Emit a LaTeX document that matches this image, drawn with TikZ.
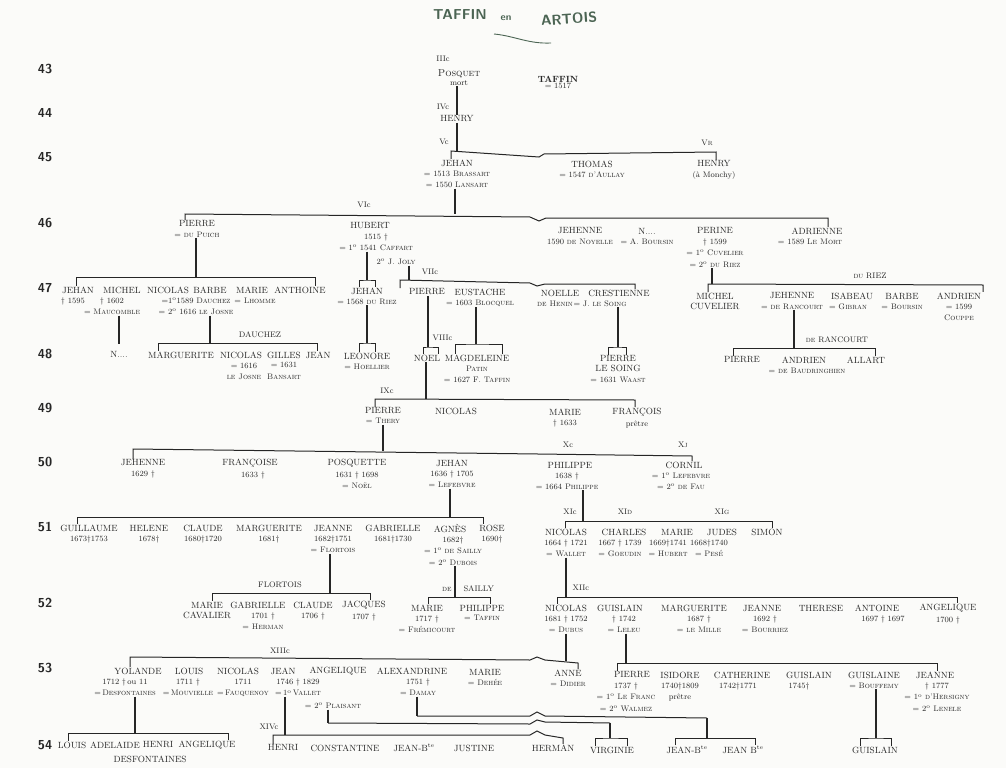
\documentclass[tikz,border=0pt]{standalone}
\usetikzlibrary{positioning}

\definecolor{ink}{HTML}{262626}
\definecolor{titleink}{HTML}{4B6453}
\definecolor{paper}{HTML}{FBFBF9}

\begin{document}
\begin{tikzpicture}[
		x=1pt, y=-1pt,
		pers/.style={font=\small, inner sep=0.5pt, text=ink},
		info/.style={font={\fontsize{8}{11.5}\selectfont}, inner sep=0.5pt, align=center, text=ink},
		lbl/.style={font=\footnotesize, inner sep=0.5pt, text=ink},
		gen/.style={font={\fontsize{13}{15}\selectfont\sffamily\bfseries}, text=ink},
		bar/.style={draw=ink, line width=1pt},
		stem/.style={draw=ink, line width=1.5pt}
		]
		
		\useasboundingbox (0,0) rectangle (1006,768);
		\fill[paper] (0,0) rectangle (1006,768);
		
		\node[font=\sffamily\bfseries\Large, text=titleink] (ttaffin) at (460,15) {TAFFIN};
		\node[font=\sffamily\bfseries\normalsize, text=titleink] (ten) at (506,18) {en};
		\node[font=\sffamily\bfseries\Large, text=titleink, rotate=4] (tartois) at (569,19) {ARTOIS};
		\draw[titleink, line width=0.9pt] (494,34) .. controls (515,36) and (528,44) .. (551,43);
		
		\foreach \g/\y in {43/69,44/113,45/157,46/223,47/288,48/354,49/408,50/462,51/527,52/603,53/668,54/745}
		\node[gen] (gen\g) at (45,\y) {\g};
		
		\node[lbl] (lIII) at (443,59) {IIIc};
		\node[pers, font=\normalsize] (posquet) at (459,74) {\textsc{Posquet}};
		\node[info, below=1pt of posquet] (posquet-i) {mort};
		\node[lbl] (lIV) at (443,107) {IVc};
		\node[pers] (henry44) at (457,119) {HENRY};
		\node[lbl] (lV) at (444,142) {Vc};
		\node[font=\bfseries\small, inner sep=0.5pt, text=ink] (taffin) at (558,79) {TAFFIN};
		\node[info, below=0pt of taffin] (taffin-i) {= 1517};
		
		\draw[stem] (posquet-i.south -| henry44.north) -- (henry44.north);
		
		\node[pers] (jehan45) at (457,163) {JEHAN};
		\node[info, below=3pt of jehan45] (jehan45-i) {= 1513 \textsc{Brassart}\\= 1550 \textsc{Lansart}};
		\node[pers] (thomas45) at (592,164) {THOMAS};
		\node[info, below=3pt of thomas45] (thomas45-i) {= 1547 \textsc{d'Aullay}};
		\node[lbl] (lVr) at (707,143) {V\textsc{r}};
		\node[pers] (henry45) at (714,164) {HENRY};
		\node[info, below=3pt of henry45] (henry45-i) {(à Monchy)};
		
		\coordinate (bVl) at (451,151);
		\coordinate (bVr) at (716,152);
		\draw[stem] (henry44.south) -- (henry44.south |- bVl);
		\draw[bar] (jehan45.north -| bVl) -- (bVl) -- (539,157) -- (544,154) -- (bVr) -- (henry45.north -| bVr);
		
		\node[lbl] (lVI) at (364,205) {VIc};
		\node[pers] (pierre46) at (197,224) {PIERRE};
		\node[info, below=3pt of pierre46] (pierre46-i) {= \textsc{du Puich}};
		\node[pers] (hubert46) at (370,226) {HUBERT};
		\node[info, below=3pt of hubert46, xshift=6pt] (hubert46-i) {1515 \dag\\= 1\textsuperscript{o} 1541 \textsc{Caffart}};
		\node[info, anchor=west] (hubert46-j) at (376,262) {2\textsuperscript{o} J. \textsc{Joly}};
		\node[pers] (jehenne46) at (580,231) {JEHENNE};
		\node[info, below=3pt of jehenne46] (jehenne46-i) {1590 \textsc{de Noyelle}};
		\node[pers] (n46) at (647,231) {N....};
		\node[info, below=3pt of n46] (n46-i) {= A. \textsc{Boursin}};
		\node[pers] (perine46) at (715,231) {PERINE};
		\node[info, below=3pt of perine46] (perine46-i) {\dag\ 1599\\= 1\textsuperscript{o} \textsc{Cuvelier}\\= 2\textsuperscript{o} \textsc{du Riez}};
		\node[pers] (adrienne46) at (817,231) {ADRIENNE};
		\node[info, below=3pt of adrienne46, xshift=-7pt] (adrienne46-i) {= 1589 \textsc{Le Mort}};
		
		\coordinate (bVIs) at (455,214);
		\coordinate (bVIl) at (185,214);
		\coordinate (bVIr) at (828,218);
		\draw[stem] (jehan45-i.south -| bVIs) -- (bVIs);
		\draw[bar] (pierre46.north -| bVIl) -- (bVIl) -- (530,217) -- (539,221) -- (546,218) -- (bVIr) -- (adrienne46.north -| bVIr);
		
		\node[pers] (jehan47a) at (78,290) {JEHAN};
		\node[info, below=3pt of jehan47a, xshift=-5pt] (jehan47a-i) {\dag\ 1595};
		\node[pers] (michel47a) at (122,290) {MICHEL};
		\node[info, below=3pt of michel47a, xshift=-10pt] (michel47a-i) {\dag\ 1602\\= \textsc{Maucomble}};
		\node[pers] (nicolas47a) at (168,290) {NICOLAS};
		\node[pers] (barbe47a) at (210,290) {BARBE};
		\node[info, below=3pt of barbe47a, xshift=-14pt] (barbe47a-i) {=1\textsuperscript{o}1589 \textsc{Dauchez}\\= 2\textsuperscript{o} 1616 \textsc{le Josne}};
		\node[pers] (marie47a) at (252,290) {MARIE};
		\node[info, below=3pt of marie47a, xshift=3pt] (marie47a-i) {= \textsc{Lhomme}};
		\node[pers] (anthoine47) at (300,290) {ANTHOINE};
		
		\coordinate (b47s) at (196,277);
		\coordinate (b47l) at (76,277);
		\coordinate (b47r) at (315,277);
		\draw[stem] (pierre46-i.south -| b47s) -- (b47s);
		\draw[bar] (jehan47a.north -| b47l) -- (b47l) -- (b47r) -- (anthoine47.north -| b47r);
		
		\node[pers] (n48) at (119,354) {N....};
		\draw[stem] (michel47a-i.south -| n48.north) -- ([yshift=6pt]n48.north);
		
		\node[lbl] (lDauchez) at (260,335) {DAUCHEZ};
		\node[pers] (marguerite48a) at (181,355) {MARGUERITE};
		\node[pers] (nicolas48) at (241,355) {NICOLAS};
		\node[info, below=3pt of nicolas48, xshift=3pt] (nicolas48-i) {= 1616\\\textsc{le Josne}};
		\node[pers] (gilles48) at (284,355) {GILLES};
		\node[info, below=3pt of gilles48] (gilles48-i) {= 1631\\\textsc{Bansart}};
		\node[pers] (jean48) at (318,355) {JEAN};
		
		\coordinate (bDs) at (210,343);
		\coordinate (bDl) at (158,343);
		\coordinate (bDr) at (317,343);
		\draw[stem] (barbe47a-i.south -| bDs) -- (bDs);
		\draw[bar] (marguerite48a.north -| bDl) -- (bDl) -- (bDr) -- (jean48.north -| bDr);
		
		\node[pers] (jehan47b) at (367,291) {JEHAN};
		\node[info, below=3pt of jehan47b] (jehan47b-i) {= 1568 \textsc{du Riez}};
		\coordinate (bJs) at (367,280);
		\draw[stem] (hubert46-i.south -| bJs) -- (bJs);
		\draw[bar] ([xshift=-8pt]jehan47b.north) |- (bJs) -| ([xshift=8pt]jehan47b.north);
		
		\node[lbl] (lVII) at (430,272) {VIIc};
		\node[pers] (pierre47) at (427,292) {PIERRE};
		\node[pers] (eustache47) at (480,292) {EUSTACHE};
		\node[info, below=3pt of eustache47] (eustache47-i) {= 1603 \textsc{Blocquel}};
		\node[pers] (noelle47) at (560,293) {NOELLE};
		\node[info, below=3pt of noelle47, xshift=-5pt] (noelle47-i) {\textsc{de Henin}};
		\node[pers] (crestienne47) at (619,293) {CRESTIENNE};
		\node[info, below=3pt of crestienne47, xshift=-19pt] (crestienne47-i) {= J. \textsc{le Soing}};
		
		\coordinate (bVIIs) at (409,280);
		\coordinate (bVIIl) at (400,280);
		\coordinate (bVIIr) at (635,284);
		\draw[stem] (hubert46-j.south -| bVIIs) -- (bVIIs);
		\draw[bar] (pierre47.north -| bVIIl) -- (bVIIl) -- (530,283) -- (537,286) -- (545,284) -- (bVIIr) -- (crestienne47.north -| bVIIr);
		
		\node[pers] (leonore48) at (367,356) {LEONORE};
		\node[info, below=3pt of leonore48] (leonore48-i) {= \textsc{Hoellier}};
		\coordinate (bLs) at (367,343);
		\draw[stem] (jehan47b-i.south -| bLs) -- (bLs);
		\draw[bar] ([xshift=-8pt]leonore48.north) |- (bLs) -| ([xshift=8pt]leonore48.north);
		
		\node[lbl, anchor=west] (lVIII) at (432,338) {VIIIc};
		\node[pers] (noel48) at (427,358) {NOEL};
		\coordinate (bNs) at (428,347);
		\draw[stem] (pierre47.south -| bNs) -- (bNs);
		\draw[bar] ([xshift=-4pt]noel48.north) |- (bNs) -| ([xshift=11pt]noel48.north);
		
		\node[pers] (magdeleine48) at (477,358) {MAGDELEINE};
		\node[info, below=3pt of magdeleine48] (magdeleine48-i) {\textsc{Patin}\\= 1627 F. \textsc{Taffin}};
		\coordinate (bMs) at (476,344);
		\draw[stem] (eustache47-i.south -| bMs) -- (bMs);
		\draw[bar] ([xshift=-22pt]magdeleine48.north) |- (bMs) -| ([xshift=25pt]magdeleine48.north);
		
		\node[pers] (pierre48a) at (618,359) {PIERRE};
		\node[pers, below=2pt of pierre48a] (pierre48a-n) {LE SOING};
		\node[info, below=4pt of pierre48a-n] (pierre48a-i) {= 1631 \textsc{Waast}};
		\coordinate (bPs) at (618,347);
		\draw[stem] (crestienne47-i.south -| bPs) -- (bPs);
		\draw[bar] ([xshift=-10pt]pierre48a.north) |- (bPs) -| ([xshift=8pt]pierre48a.north);
		
		\node[lbl] (lRiez) at (870,276) {\textsc{du} RIEZ};
		\node[pers] (michel47b) at (715,296) {MICHEL};
		\node[pers, below=2pt of michel47b] (michel47b-n) {CUVELIER};
		\node[pers] (jehenne47) at (792,296) {JEHENNE};
		\node[info, below=3pt of jehenne47] (jehenne47-i) {= \textsc{de Rancourt}};
		\node[pers] (isabeau47) at (852,296) {ISABEAU};
		\node[info, below=3pt of isabeau47, xshift=-4pt] (isabeau47-i) {= \textsc{Gibran}};
		\node[pers] (barbe47b) at (902,296) {BARBE};
		\node[info, below=3pt of barbe47b] (barbe47b-i) {= \textsc{Boursin}};
		\node[pers] (andrien47) at (959,296) {ANDRIEN};
		\node[info, below=3pt of andrien47] (andrien47-i) {= 1599\\\textsc{Couppe}};
		
		\coordinate (bRs) at (712,284);
		\coordinate (bRl) at (708,284);
		\coordinate (bRr) at (983,285);
		\draw[stem] (perine46-i.south -| bRs) -- (bRs);
		\draw[bar] (michel47b.north -| bRl) -- (bRl) -- (bRr) -- (andrien47.north -| bRr);
		
		\node[lbl] (lRancourt) at (837,340) {\textsc{de} RANCOURT};
		\node[pers] (pierre48b) at (742,360) {PIERRE};
		\node[pers] (andrien48) at (804,360) {ANDRIEN};
		\node[info, below=3pt of andrien48, xshift=3pt] (andrien48-i) {= \textsc{de Baudringhien}};
		\node[pers] (allart48) at (866,360) {ALLART};
		
		\coordinate (bRas) at (794,348);
		\coordinate (bRal) at (733,348);
		\coordinate (bRar) at (875,348);
		\draw[stem] (jehenne47-i.south -| bRas) -- (bRas);
		\draw[bar] (pierre48b.north -| bRal) -- (bRal) -- (bRar) -- (allart48.north -| bRar);
		
		\node[lbl] (lIX) at (387,391) {IXc};
		\node[pers] (pierre49) at (383,411) {PIERRE};
		\node[info, below=3pt of pierre49] (pierre49-i) {= \textsc{Thery}};
		\node[pers] (nicolas49) at (456,411) {NICOLAS};
		\node[pers] (marie49) at (565,412) {MARIE};
		\node[info, below=3pt of marie49] (marie49-i) {\dag\ 1633};
		\node[pers] (francois49) at (637,412) {FRANÇOIS};
		\node[info, below=3pt of francois49] (francois49-i) {prêtre};
		
		\coordinate (bIXs) at (426,399);
		\coordinate (bIXl) at (375,399);
		\coordinate (bIXr) at (635,400);
		\draw[stem] (noel48.south -| bIXs) -- (bIXs);
		\draw[bar] (pierre49.north -| bIXl) -- (bIXl) -- (bIXr) -- (francois49.north -| bIXr);
		
		\node[lbl] (lX) at (568,445) {Xc};
		\node[lbl] (lXj) at (683,445) {X\textsc{j}};
		\node[pers] (jehenne50) at (143,463) {JEHENNE};
		\node[info, below=3pt of jehenne50] (jehenne50-i) {1629 \dag};
		\node[pers] (francoise50) at (250,463) {FRANÇOISE};
		\node[info, below=3pt of francoise50, xshift=3pt] (francoise50-i) {1633 \dag};
		\node[pers] (posquette50) at (357,463) {POSQUETTE};
		\node[info, below=3pt of posquette50] (posquette50-i) {1631 \dag\ 1698\\= \textsc{Noël}};
		\node[pers] (jehan50) at (452,463) {JEHAN};
		\node[info, below=3pt of jehan50] (jehan50-i) {1636 \dag\ 1705\\= \textsc{Lefebvre}};
		\node[pers] (philippe50) at (570,465) {PHILIPPE};
		\node[info, below=3pt of philippe50, xshift=-3pt] (philippe50-i) {1638 \dag\\= 1664 \textsc{Philippe}};
		\node[pers] (cornil50) at (684,465) {CORNIL};
		\node[info, below=3pt of cornil50, xshift=-3pt] (cornil50-i) {= 1\textsuperscript{o} \textsc{Lefebvre}\\= 2\textsuperscript{o} \textsc{de Fau}};
		
		\coordinate (bXs) at (383,451);
		\coordinate (bXl) at (133,449);
		\coordinate (bXr) at (692,456);
		\draw[stem] (pierre49-i.south -| bXs) -- (bXs);
		\draw[bar] (jehenne50.north -| bXl) -- (bXl) -- (538,454) -- (bXr) -- (cornil50.north -| bXr);
		
		\node[pers] (guillaume51) at (89,528) {GUILLAUME};
		\node[info, below=3pt of guillaume51] (guillaume51-i) {1673\dag 1753};
		\node[pers] (helene51) at (149,528) {HELENE};
		\node[info, below=3pt of helene51] (helene51-i) {1678\dag};
		\node[pers] (claude51) at (203,528) {CLAUDE};
		\node[info, below=3pt of claude51] (claude51-i) {1680\dag 1720};
		\node[pers] (marguerite51) at (269,528) {MARGUERITE};
		\node[info, below=3pt of marguerite51] (marguerite51-i) {1681\dag};
		\node[pers] (jeanne51) at (333,528) {JEANNE};
		\node[info, below=3pt of jeanne51] (jeanne51-i) {1682\dag 1751\\= \textsc{Flortois}};
		\node[pers] (gabrielle51) at (393,528) {GABRIELLE};
		\node[info, below=3pt of gabrielle51] (gabrielle51-i) {1681\dag 1730};
		\node[pers] (agnes51) at (450,528) {AGNÈS};
		\node[info, below=3pt of agnes51, xshift=3pt] (agnes51-i) {1682\dag\\= 1\textsuperscript{o} \textsc{de Sailly}\\= 2\textsuperscript{o} \textsc{Dubois}};
		\node[pers] (rose51) at (492,528) {ROSE};
		\node[info, below=3pt of rose51] (rose51-i) {1690\dag};
		
		\coordinate (b51s) at (450,517);
		\coordinate (b51l) at (77,517);
		\coordinate (b51r) at (483,517);
		\draw[stem] (jehan50-i.south -| b51s) -- (b51s);
		\draw[bar] (guillaume51.north -| b51l) -- (b51l) -- (b51r) -- (rose51.north -| b51r);
		
		\node[lbl] (lXIc) at (570,512) {XIc};
		\node[lbl] (lXId) at (625,512) {XI\textsc{d}};
		\node[lbl] (lXIg) at (722,512) {XI\textsc{g}};
		\node[pers] (nicolas51) at (566,532) {NICOLAS};
		\node[info, below=3pt of nicolas51] (nicolas51-i) {1664 \dag\ 1721\\= \textsc{Wallet}};
		\node[pers] (charles51) at (624,532) {CHARLES};
		\node[info, below=3pt of charles51, xshift=-4pt] (charles51-i) {1667 \dag\ 1739\\= \textsc{Goeudin}};
		\node[pers] (marie51) at (677,532) {MARIE};
		\node[info, below=3pt of marie51, xshift=-9pt] (marie51-i) {1669\dag 1741\\= \textsc{Hubert}};
		\node[pers] (judes51) at (722,532) {JUDES};
		\node[info, below=3pt of judes51, xshift=-13pt] (judes51-i) {1668\dag 1740\\= \textsc{Pesé}};
		\node[pers] (simon51) at (767,532) {SIMON};
		
		\coordinate (bXIs) at (583,521);
		\coordinate (bXIl) at (565,521);
		\coordinate (bXIr) at (772,521);
		\draw[stem] (philippe50-i.south -| bXIs) -- (bXIs);
		\draw[bar] (nicolas51.north -| bXIl) -- (bXIl) -- (bXIr) -- (simon51.north -| bXIr);
		
		\node[lbl] (lFlortois) at (280,585) {FLORTOIS};
		\node[pers] (marie52a) at (207,605) {MARIE};
		\node[pers, below=2pt of marie52a] (marie52a-n) {CAVALIER};
		\node[pers] (gabrielle52) at (258,605) {GABRIELLE};
		\node[info, below=3pt of gabrielle52, xshift=5pt] (gabrielle52-i) {1701 \dag\\= \textsc{Herman}};
		\node[pers] (claude52) at (313,605) {CLAUDE};
		\node[info, below=3pt of claude52] (claude52-i) {1706 \dag};
		\node[pers] (jacques52) at (364,605) {JACQUES};
		\node[info, below=3pt of jacques52] (jacques52-i) {1707 \dag};
		
		\coordinate (bFs) at (330,593);
		\coordinate (bFl) at (212,593);
		\coordinate (bFr) at (370,593);
		\draw[stem] (jeanne51-i.south -| bFs) -- (bFs);
		\draw[bar] (marie52a.north -| bFl) -- (bFl) -- (bFr) -- (jacques52.north -| bFr);
		
		\node[lbl] (lSailly) at (468,589) {\textsc{de}\hspace{12pt}SAILLY};
		\node[pers] (marie52b) at (427,608) {MARIE};
		\node[info, below=3pt of marie52b] (marie52b-i) {1717 \dag\\= \textsc{Frémicourt}};
		\node[pers] (philippe52) at (482,608) {PHILIPPE};
		\node[info, below=3pt of philippe52] (philippe52-i) {= \textsc{Taffin}};
		
		\coordinate (bSs) at (455,597);
		\coordinate (bSl) at (428,597);
		\coordinate (bSr) at (490,597);
		\draw[stem] (agnes51-i.south -| bSs) -- (bSs);
		\draw[bar] (marie52b.north -| bSl) -- (bSl) -- (bSr) -- (philippe52.north -| bSr);
		
		\node[lbl, anchor=west] (lXII) at (572,588) {XIIc};
		\node[pers] (nicolas52) at (566,608) {NICOLAS};
		\node[info, below=3pt of nicolas52] (nicolas52-i) {1681 \dag\ 1752\\= \textsc{Dubus}};
		\node[pers] (guislain52) at (620,608) {GUISLAIN};
		\node[info, below=3pt of guislain52, xshift=4pt] (guislain52-i) {\dag\ 1742\\= \textsc{Leleu}};
		\node[pers] (marguerite52) at (694,608) {MARGUERITE};
		\node[info, below=3pt of marguerite52, xshift=5pt] (marguerite52-i) {1687 \dag\\= \textsc{le Mille}};
		\node[pers] (jeanne52) at (762,608) {JEANNE};
		\node[info, below=3pt of jeanne52, xshift=3pt] (jeanne52-i) {1692 \dag\\= \textsc{Bourriez}};
		\node[pers] (therese52) at (821,608) {THERESE};
		\node[pers] (antoine52) at (877,608) {ANTOINE};
		\node[info, below=3pt of antoine52, xshift=6pt] (antoine52-i) {1697 \dag\ 1697};
		\node[pers] (angelique52) at (948,608) {ANGELIQUE};
		\node[info, below=3pt of angelique52] (angelique52-i) {1700 \dag};
		
		\coordinate (bXIIs) at (566,597);
		\coordinate (bXIIl) at (557,597);
		\coordinate (bXIIr) at (957,597);
		\draw[stem] (nicolas51-i.south -| bXIIs) -- (bXIIs);
		\draw[bar] (nicolas52.north -| bXIIl) -- (bXIIl) -- (bXIIr) -- (angelique52.north -| bXIIr);
		
		\node[lbl] (lXIII) at (280,651) {XIIIc};
		\node[pers] (yolande53) at (138,671) {YOLANDE};
		\node[info, below=3pt of yolande53, xshift=-13pt] (yolande53-i) {1712 \dag\,ou 11\\=\,\textsc{Desfontaines}};
		\node[pers] (louis53) at (189,671) {LOUIS};
		\node[info, below=3pt of louis53, xshift=-1pt] (louis53-i) {1711 \dag\\=\,\textsc{Mouvielle}};
		\node[pers] (nicolas53) at (238,671) {NICOLAS};
		\node[info, below=3pt of nicolas53, xshift=5pt] (nicolas53-i) {1711\\=\,\textsc{Fauquenoy}};
		\node[pers] (jean53) at (283,671) {JEAN};
		\node[info, below=3pt of jean53, xshift=15pt] (jean53-i) {1746 \dag\ 1829\\=\,1\textsuperscript{o}\,\textsc{Vallet}};
		\node[info] (jean53-j) at (333,706) {= 2\textsuperscript{o} \textsc{Plaisant}};
		\node[pers] (angelique53) at (338,671) {ANGELIQUE};
		\node[pers] (alexandrine53) at (412,671) {ALEXANDRINE};
		\node[info, below=3pt of alexandrine53, xshift=6pt] (alexandrine53-i) {1751 \dag\\= \textsc{Damay}};
		\node[pers] (marie53) at (485,672) {MARIE};
		\node[info, below=3pt of marie53] (marie53-i) {= \textsc{Dehée}};
		\node[pers] (anne53) at (568,673) {ANNE};
		\node[info, below=3pt of anne53] (anne53-i) {= \textsc{Didier}};
		
		\coordinate (bXIIIs) at (566,661);
		\coordinate (bXIIIl) at (130,657);
		\coordinate (bXIIIr) at (578,663);
		\draw[stem] (nicolas52-i.south -| bXIIIs) -- (bXIIIs);
		\draw[bar] (yolande53.north -| bXIIIl) -- (bXIIIl) -- (530,660) -- (537,657) -- (545,660) -- (bXIIIr) -- (anne53.north -| bXIIIr);
		
		\node[pers] (pierre53) at (632,675) {PIERRE};
		\node[info, below=3pt of pierre53, xshift=-6pt] (pierre53-i) {1737 \dag\\= 1\textsuperscript{o} \textsc{Le Franc}\\= 2\textsuperscript{o} \textsc{Walmez}};
		\node[pers] (isidore53) at (680,675) {ISIDORE};
		\node[info, below=3pt of isidore53] (isidore53-i) {1740\dag 1809\\prêtre};
		\node[pers] (catherine53) at (742,675) {CATHERINE};
		\node[info, below=3pt of catherine53, xshift=-4pt] (catherine53-i) {1742\dag 1771};
		\node[pers] (guislain53) at (809,675) {GUISLAIN};
		\node[info, below=3pt of guislain53, xshift=-10pt] (guislain53-i) {1745\dag};
		\node[pers] (guislaine53) at (874,675) {GUISLAINE};
		\node[info, below=3pt of guislaine53] (guislaine53-i) {= \textsc{Bouffemy}};
		\node[pers] (jeanne53) at (935,675) {JEANNE};
		\node[info, below=3pt of jeanne53, xshift=2pt] (jeanne53-i) {\dag\ 1777\\= 1\textsuperscript{o} \textsc{d'Hersigny}\\= 2\textsuperscript{o} \textsc{Lenele}};
		
		\coordinate (b53s) at (626,663);
		\coordinate (b53l) at (617,663);
		\coordinate (b53r) at (937,663);
		\draw[stem] (guislain52-i.south -| b53s) -- (b53s);
		\draw[bar] (pierre53.north -| b53l) -- (b53l) -- (b53r) -- (jeanne53.north -| b53r);
		
		\node[pers] (guislain54) at (875,750) {GUISLAIN};
		\coordinate (bGs) at (876,738);
		\draw[stem] (guislaine53-i.south -| bGs) -- (bGs);
		\draw[bar] ([xshift=-15pt]guislain54.north) |- (bGs) -| ([xshift=16pt]guislain54.north);
		
		\node[pers] (louis54) at (72,745) {LOUIS};
		\node[pers] (adelaide54) at (115,745) {ADELAIDE};
		\node[pers] (henri54a) at (158,745) {HENRI};
		\node[pers] (angelique54) at (207,745) {ANGELIQUE};
		\node[pers] (desf54) at (150,759) {DESFONTAINES};
		
		\coordinate (b54s) at (135,733);
		\coordinate (b54l) at (68,733);
		\coordinate (b54r) at (228,733);
		\draw[stem] (yolande53-i.south -| b54s) -- (b54s);
		\draw[bar] (louis54.north -| b54l) -- (b54l) -- (b54r) -- (angelique54.north -| b54r);
		
		\node[lbl] (lXIV) at (269,727) {XIVc};
		\node[pers] (henri54b) at (283,748) {HENRI};
		\node[pers] (constantine54) at (345,748) {CONSTANTINE};
		\node[pers] (jeanbte54a) at (414,748) {JEAN-B\textsuperscript{te}};
		\node[pers] (justine54) at (474,748) {JUSTINE};
		\node[pers] (herman54) at (553,748) {HERMAN};
		
		\coordinate (bXIVs) at (285,735);
		\coordinate (bXIVl) at (273,735);
		\coordinate (bXIVr) at (563,738);
		\draw[stem] (jean53-i.south -| bXIVs) -- (bXIVs);
		\draw[bar] (henri54b.north -| bXIVl) -- (bXIVl) -- (530,735) -- (537,731) -- (545,735) -- (bXIVr) -- (herman54.north -| bXIVr);
		
		\node[pers] (virginie54) at (612,750) {VIRGINIE};
		\coordinate (bPls) at (328,723);
		\coordinate (bPlr) at (610,723);
		\coordinate (bVis) at (610,738);
		\draw[stem] (jean53-j.south -| bPls) -- (bPls);
		\draw[bar] (bPls) -- (530,724) -- (537,720) -- (545,722) -- (bPlr);
		\draw[stem] (bPlr) -- (bVis);
		\draw[bar] ([xshift=-17pt]virginie54.north) |- (bVis) -| ([xshift=15pt]virginie54.north);
		
		\node[pers] (jeanbte54b) at (687,750) {JEAN-B\textsuperscript{te}};
		\node[pers] (jeanbte54c) at (743,750) {JEAN B\textsuperscript{te}};
		\coordinate (bAs) at (417,716);
		\coordinate (bAr) at (707,718);
		\coordinate (bJbs) at (707,738);
		\coordinate (bJbl) at (675,738);
		\coordinate (bJbr) at (755,738);
		\draw[stem] (alexandrine53-i.south -| bAs) -- (bAs);
		\draw[bar] (bAs) -- (530,716) -- (537,712) -- (545,716) -- (bAr);
		\draw[stem] (bAr) -- (bJbs);
		\draw[bar] (jeanbte54b.north -| bJbl) -- (bJbl) -- (bJbr) -- (jeanbte54c.north -| bJbr);
		
	\end{tikzpicture}
\end{document}
